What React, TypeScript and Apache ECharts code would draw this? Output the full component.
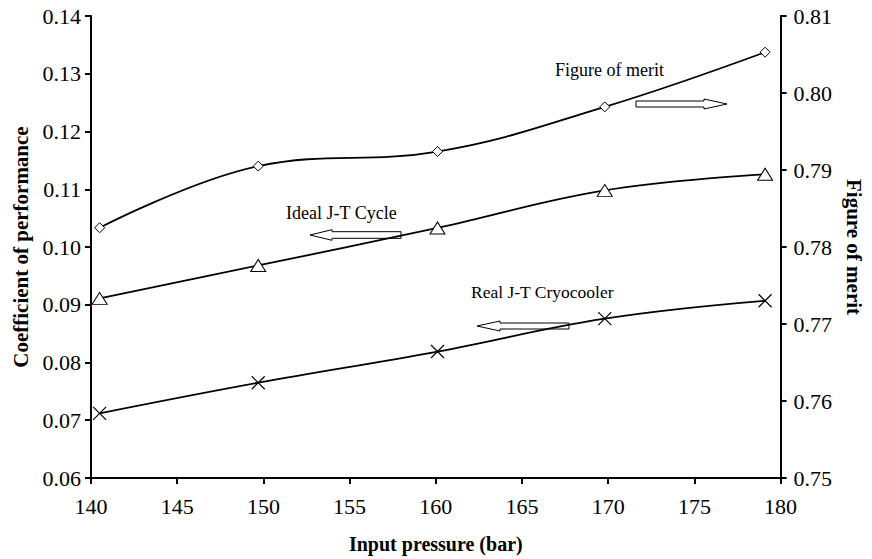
import React, { useEffect, useRef } from "react";
import * as echarts from "echarts";

const pressure = [140.5, 149.7, 160.1, 169.8, 179.1];
const figureOfMerit = [0.7825, 0.7905, 0.7924, 0.7982, 0.8053];
const idealCOP = [0.0911, 0.0968, 0.1033, 0.1098, 0.1126];
const realCOP = [0.0712, 0.0765, 0.0819, 0.0876, 0.0907];

const xTitle = "Input pressure (bar)";
const leftTitle = "Coefficient of performance";
const rightTitle = "Figure of merit";
const labelFOM = "Figure of merit";
const labelIdeal = "Ideal J-T Cycle";
const labelReal = "Real J-T Cryocooler";

const FONT = "Liberation Serif";

const crossPath = "path://M0,0L10,10M10,0L0,10";

function arrowRight(x0: number, x1: number, headBase: number, cy: number, sh: number, hh: number) {
  return [
    [x0, cy - sh], [headBase, cy - sh], [headBase, cy - hh], [x1, cy],
    [headBase, cy + hh], [headBase, cy + sh], [x0, cy + sh],
  ];
}
function arrowLeft(tip: number, headBase: number, tail: number, cy: number, sh: number, hh: number) {
  return [
    [tip, cy], [headBase, cy - hh], [headBase, cy - sh], [tail, cy - sh],
    [tail, cy + sh], [headBase, cy + sh], [headBase, cy + hh],
  ];
}

export default function App() {
  const ref = useRef<HTMLDivElement>(null);
  useEffect(() => {
    if (!ref.current) return;
    const chart = echarts.init(ref.current, null, { renderer: "svg" });
    const axisLine = { show: true, lineStyle: { color: "#000", width: 2 } };
    const axisTick = { show: true, inside: false, length: 6, lineStyle: { color: "#000", width: 2 } };
    const axisLabel = { color: "#000", fontSize: 22, fontFamily: FONT };
    const nameStyle = { color: "#000", fontWeight: "bold" as const, fontFamily: FONT };
    const arrowStyle = { fill: "#fff", stroke: "#000", lineWidth: 1 };
    const textStyle = (t: string, size: number) => ({ text: t, fill: "#000", fontSize: size, fontFamily: FONT, textVerticalAlign: "middle" as const });

    chart.setOption({
      animation: false,
      backgroundColor: "#fff",
      grid: { left: 91, right: 84, top: 16, bottom: 77, containLabel: false },
      xAxis: {
        type: "value",
        min: 140,
        max: 180,
        interval: 5,
        axisLine,
        axisTick,
        axisLabel: { ...axisLabel, margin: 17 },
        splitLine: { show: false },
        name: xTitle,
        nameLocation: "middle",
        nameGap: 56,
        nameTextStyle: { ...nameStyle, fontSize: 20 },
      },
      yAxis: [
        {
          type: "value",
          min: 0.06,
          max: 0.14,
          interval: 0.01,
          position: "left",
          axisLine,
          axisTick,
          axisLabel: { ...axisLabel, margin: 10, formatter: (v: number) => v.toFixed(2) },
          splitLine: { show: false },
          name: leftTitle,
          nameLocation: "middle",
          nameRotate: 90,
          nameGap: 60,
          nameTextStyle: { ...nameStyle, fontSize: 21 },
        },
        {
          type: "value",
          min: 0.75,
          max: 0.81,
          interval: 0.01,
          position: "right",
          axisLine,
          axisTick,
          axisLabel: { ...axisLabel, margin: 13, formatter: (v: number) => v.toFixed(2) },
          splitLine: { show: false },
          name: rightTitle,
          nameLocation: "middle",
          nameRotate: -90,
          nameGap: 58,
          nameTextStyle: { ...nameStyle, fontSize: 21 },
        },
      ],
      series: [
        {
          name: labelFOM,
          type: "line",
          yAxisIndex: 1,
          data: pressure.map((x, i) => [x, figureOfMerit[i]]),
          smooth: 0.4,
          symbol: "diamond",
          symbolSize: [10, 10],
          showAllSymbol: true,
          lineStyle: { color: "#000", width: 1.8 },
          itemStyle: { color: "#fff", borderColor: "#000", borderWidth: 1 },
          z: 3,
        },
        {
          name: labelIdeal,
          type: "line",
          yAxisIndex: 0,
          data: pressure.map((x, i) => [x, idealCOP[i]]),
          smooth: 0.4,
          symbol: "triangle",
          symbolSize: [15, 12],
          lineStyle: { color: "#000", width: 1.8 },
          itemStyle: { color: "#fff", borderColor: "#000", borderWidth: 1 },
          z: 3,
        },
        {
          name: labelReal,
          type: "line",
          yAxisIndex: 0,
          data: pressure.map((x, i) => [x, realCOP[i]]),
          smooth: 0.4,
          symbol: crossPath,
          symbolSize: [13, 13],
          lineStyle: { color: "#000", width: 1.8 },
          itemStyle: { color: "#000", borderColor: "#000", borderWidth: 1.2 },
          z: 3,
        },
      ],
      graphic: [
        { type: "text", left: 555, top: 61, z: 1, style: textStyle(labelFOM, 18) },
        { type: "text", left: 286, top: 204, z: 1, style: textStyle(labelIdeal, 18) },
        { type: "text", left: 471, top: 283, z: 1, style: textStyle(labelReal, 17.5) },
        { type: "polygon", z: 1, shape: { points: arrowRight(636, 727, 704, 104, 3, 5) }, style: arrowStyle },
        { type: "polygon", z: 1, shape: { points: arrowLeft(310, 332, 401, 235, 3.3, 5.3) }, style: arrowStyle },
        { type: "polygon", z: 1, shape: { points: arrowLeft(477, 500, 569, 326, 3, 5) }, style: arrowStyle },
      ],
    });
    return () => chart.dispose();
  }, []);
  return <div ref={ref} style={{ width: 872, height: 559, position: "absolute", left: 0, top: 0 }} />;
}
